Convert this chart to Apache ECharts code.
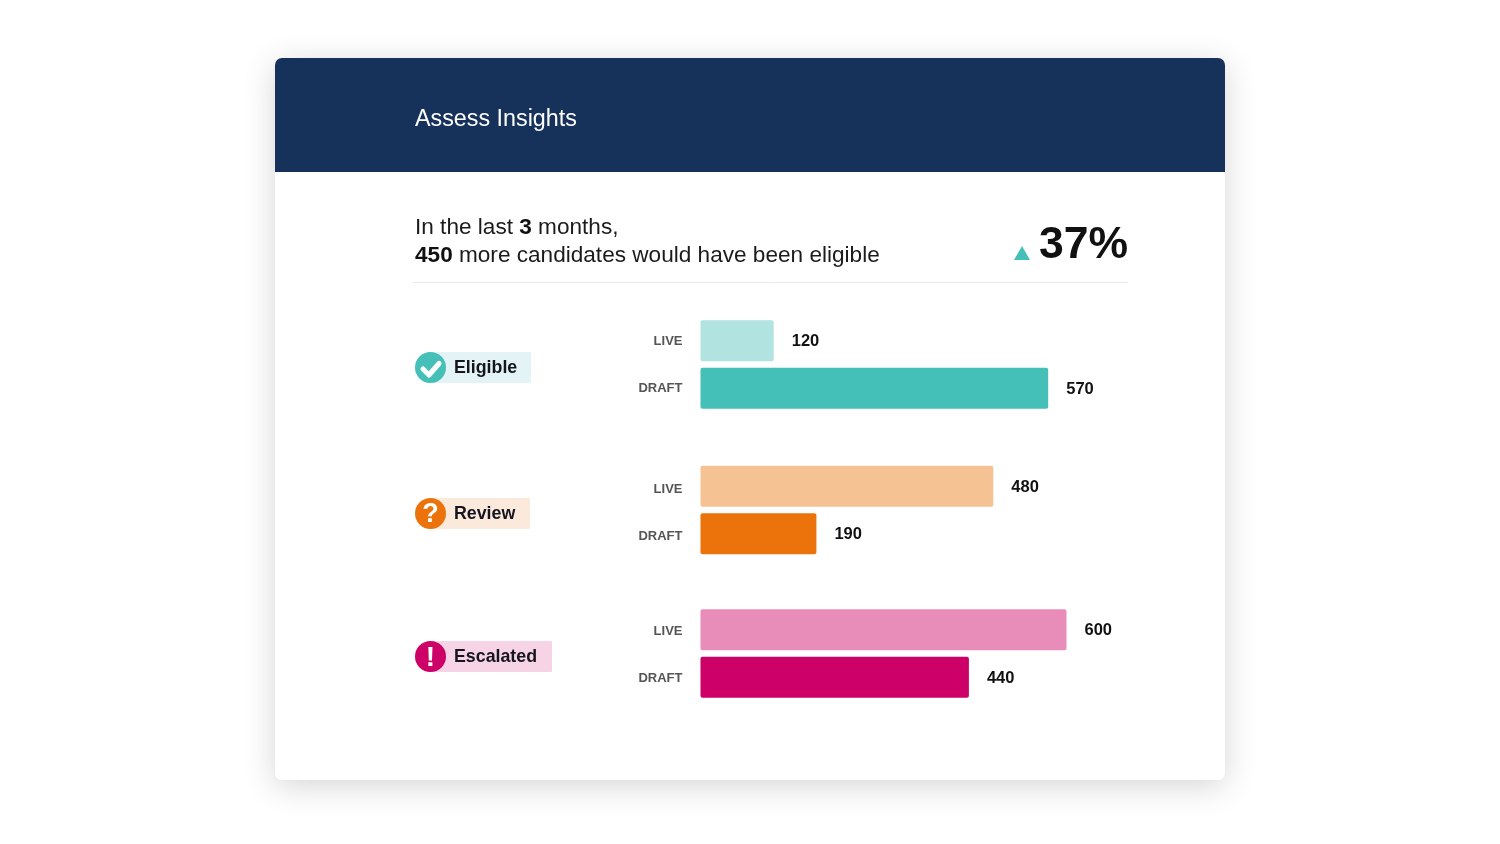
<!DOCTYPE html>
<html>
<head>
<meta charset="utf-8">
<title>Assess Insights</title>
<style>
  html, body { margin: 0; padding: 0; background: #fff; }
  #chart { width: 1500px; height: 844px; }
</style>
<script src="https://cdn.jsdelivr.net/npm/echarts@6/dist/echarts.min.js"></script>
</head>
<body>
<div id="chart"></div>
<script>
const FONT = '"Liberation Sans", Arial, sans-serif';

const groups = ['Eligible', 'Review', 'Escalated'];
const rows = ['LIVE', 'DRAFT'];
const liveValues = [120, 480, 600];
const draftValues = [570, 190, 440];
const liveColors = ['#b1e3e1', '#f5c294', '#e88cba'];
const draftColors = ['#45c0b8', '#ec730b', '#cc0066'];
const badgeColors = ['#e4f3f5', '#fbe9db', '#f7d3e6'];
const badgeWidths = [116, 115, 137];
const gridTops = [317, 462.5, 606];
const badgeTops = [352, 498, 641];
const rowLabelNudge = [1, 6, 3]; // labels sit slightly under the bar centres

const chart = echarts.init(document.getElementById('chart'), null, { renderer: 'canvas' });

// card, header and text block
const graphic = [
  {
    type: 'rect', z: -10,
    shape: { x: 275, y: 58, width: 950, height: 722, r: 7 },
    style: { fill: '#fff', shadowBlur: 32, shadowColor: 'rgba(0,0,0,0.17)', shadowOffsetY: 6 }
  },
  {
    type: 'rect', z: -9,
    shape: { x: 275, y: 58, width: 950, height: 114, r: [7, 7, 0, 0] },
    style: { fill: '#16325a' }
  },
  {
    type: 'text', x: 415, y: 120,
    style: { text: 'Assess Insights', fill: '#fff', font: '23.3px ' + FONT, textVerticalAlign: 'middle' }
  },
  {
    type: 'text', x: 415, y: 228,
    style: {
      text: '{n|In the last }{b|3}{n| months,}',
      textVerticalAlign: 'middle',
      rich: {
        n: { font: '22.6px ' + FONT, fill: '#1b1b1b' },
        b: { font: 'bold 22.6px ' + FONT, fill: '#111' }
      }
    }
  },
  {
    type: 'text', x: 415, y: 256,
    style: {
      text: '{b|450}{n| more candidates would have been eligible}',
      textVerticalAlign: 'middle',
      rich: {
        n: { font: '22.6px ' + FONT, fill: '#1b1b1b' },
        b: { font: 'bold 22.6px ' + FONT, fill: '#111' }
      }
    }
  },
  {
    type: 'polygon',
    shape: { points: [[1022, 246], [1030, 260], [1014, 260]] },
    style: { fill: '#45c0b8' }
  },
  {
    type: 'text', x: 1039, y: 246,
    style: { text: '37%', fill: '#111', font: 'bold 44.5px ' + FONT, textVerticalAlign: 'middle' }
  },
  {
    type: 'line',
    shape: { x1: 413, y1: 282.5, x2: 1128, y2: 282.5 },
    style: { stroke: '#e8e8e8', lineWidth: 1 }
  }
];

// status badges on the left of each group
groups.forEach(function (name, i) {
  const top = badgeTops[i];
  const cy = top + 15.5;
  graphic.push(
    {
      type: 'rect',
      shape: { x: 430, y: top, width: badgeWidths[i] - 15, height: 31, r: 1 },
      style: { fill: badgeColors[i] }
    },
    {
      type: 'circle', z: 3,
      shape: { cx: 430.5, cy: cy, r: 15.5 },
      style: { fill: draftColors[i] }
    },
    {
      type: 'text', x: 454, y: cy + 1,
      style: { text: name, fill: '#15151f', font: 'bold 17.8px ' + FONT, textVerticalAlign: 'middle' }
    }
  );
});
graphic.push(
  {
    type: 'polyline', z: 4,
    shape: { points: [[423, 369], [429, 375], [439, 363.5]] },
    style: { stroke: '#fff', lineWidth: 5, fill: null, lineCap: 'round', lineJoin: 'round' }
  },
  {
    type: 'text', z: 4, x: 430.5, y: 515,
    style: { text: '?', fill: '#fff', font: 'bold 27px ' + FONT, textAlign: 'center', textVerticalAlign: 'middle' }
  },
  {
    type: 'text', z: 4, x: 430.5, y: 658,
    style: { text: '!', fill: '#fff', font: 'bold 28px ' + FONT, textAlign: 'center', textVerticalAlign: 'middle' }
  }
);

chart.setOption({
  animation: false,
  backgroundColor: '#fff',
  graphic: graphic,
  grid: groups.map(function (_, i) {
    return { left: 700.5, width: 366, top: gridTops[i], height: 95 };
  }),
  xAxis: groups.map(function (_, i) {
    return { type: 'value', gridIndex: i, min: 0, max: 600, show: false };
  }),
  yAxis: groups.map(function (_, i) {
    return {
      type: 'category',
      gridIndex: i,
      inverse: true,
      data: rows,
      axisLine: { show: false },
      axisTick: { show: false },
      axisLabel: {
        margin: 18,
        formatter: '{a|{value}}',
        rich: {
          a: {
            color: '#555',
            fontFamily: FONT,
            fontWeight: 'bold',
            fontSize: 13,
            padding: [rowLabelNudge[i], 0, 0, 0]
          }
        }
      }
    };
  }),
  series: groups.map(function (name, i) {
    return {
      type: 'bar',
      name: name,
      xAxisIndex: i,
      yAxisIndex: i,
      barWidth: 41,
      silent: true,
      itemStyle: { borderRadius: 2 },
      label: {
        show: true,
        position: 'right',
        distance: 18,
        offset: [0, 1],
        color: '#111',
        fontFamily: FONT,
        fontWeight: 'bold',
        fontSize: 16.5
      },
      data: [
        { value: liveValues[i], itemStyle: { color: liveColors[i] } },
        { value: draftValues[i], itemStyle: { color: draftColors[i] } }
      ]
    };
  })
});
</script>
</body>
</html>
